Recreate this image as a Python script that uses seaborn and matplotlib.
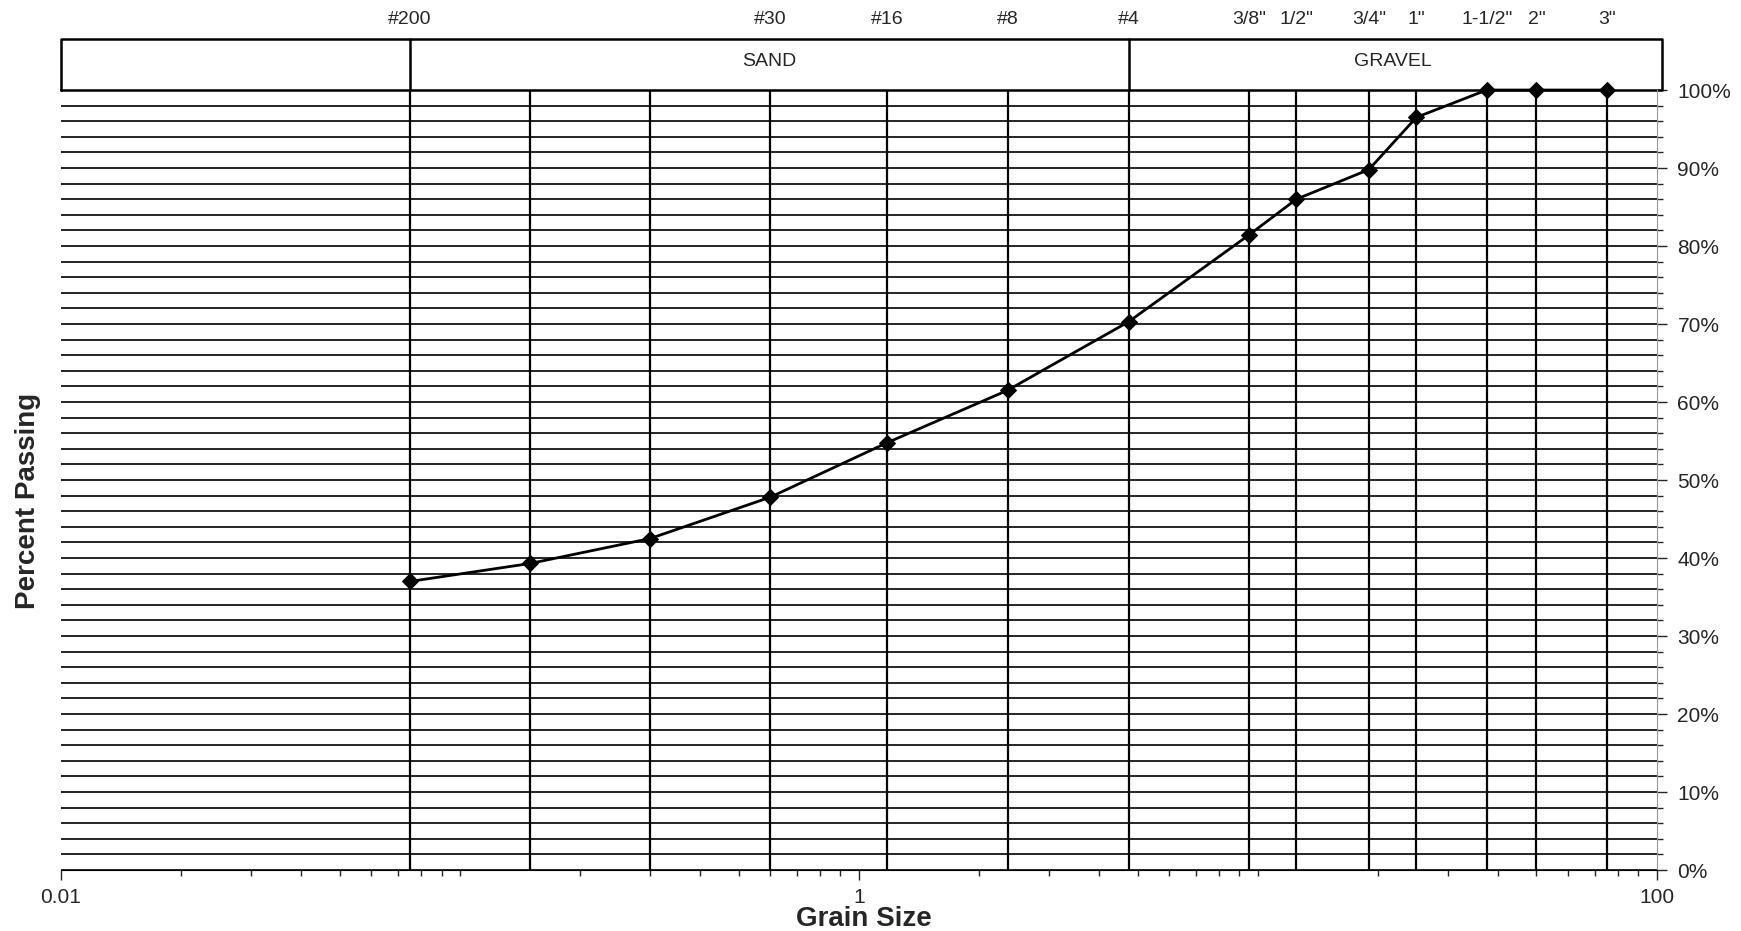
import numpy as np
import pandas as pd
import matplotlib
matplotlib.use("Agg")
import matplotlib.pyplot as plt
import matplotlib.ticker as mticker
import seaborn as sns

# ---- data ----
sieve_labels = ['#200', '#100', '#50', '#30', '#16', '#8', '#4',
                '3/8"', '1/2"', '3/4"', '1"', '1-1/2"', '2"', '3"']
sieve_mm = [0.075, 0.15, 0.3, 0.6, 1.18, 2.36, 4.75,
            9.5, 12.5, 19, 25, 37.5, 50, 75]
percent_passing = [37.0, 39.3, 42.5, 47.8, 54.8, 61.5, 70.3,
                   81.4, 86.0, 89.8, 96.5, 100, 100, 100]
shown_labels = ['#200', '#30', '#16', '#8', '#4', '3/8"', '1/2"',
                '3/4"', '1"', '1-1/2"', '2"', '3"']
zones = ['SAND', 'GRAVEL']
zone_edges = [0.075, 4.75, 100]

df = pd.DataFrame({'size': sieve_mm, 'passing': percent_passing})

sns.set_style("white")
plt.rcParams['font.family'] = ['Liberation Sans', 'DejaVu Sans']

fig = plt.figure(figsize=(17.41, 9.31), dpi=100)
ax = fig.add_axes([0.035, 0.0655, 0.9165, 0.8378])

ax.set_xscale('log')
ax.set_xlim(0.01, 100)
ax.set_ylim(0, 100)

# horizontal grid every 2 %
ax.yaxis.set_major_locator(mticker.MultipleLocator(10))
ax.yaxis.set_minor_locator(mticker.MultipleLocator(2))
ax.yaxis.set_major_formatter(mticker.FuncFormatter(lambda v, p: f"{v:.0f}%"))
ax.grid(which='both', axis='y', color='black', lw=1.2)
ax.grid(which='both', axis='x', visible=False)

# vertical sieve lines
ax.vlines(sieve_mm, 0, 100, color='black', lw=1.6, zorder=2)

sns.lineplot(data=df, x='size', y='passing', ax=ax, color='black', lw=2,
             marker='D', markersize=8, markeredgecolor='black', zorder=5,
             clip_on=False)

# right y axis
ax.yaxis.tick_right()
ax.tick_params(axis='y', which='major', direction='out', length=7, width=1,
               labelsize=15, pad=8, right=True, left=False)
ax.tick_params(axis='y', which='minor', direction='out', length=4, width=1,
               right=True, left=False)

# bottom log ticks
ax.xaxis.set_major_locator(mticker.LogLocator(base=100))
ax.xaxis.set_major_formatter(mticker.FuncFormatter(lambda v, p: f"{v:g}"))
ax.xaxis.set_minor_locator(mticker.LogLocator(base=10, subs=np.arange(1, 10)))
ax.xaxis.set_minor_formatter(mticker.NullFormatter())
ax.tick_params(axis='x', which='major', direction='out', length=7, width=1,
               labelsize=15, pad=6, bottom=True)
ax.tick_params(axis='x', which='minor', direction='out', length=4, width=1,
               bottom=True)

for s in ['left', 'top']:
    ax.spines[s].set_visible(False)
ax.spines['bottom'].set_color('black')
ax.spines['right'].set_color('#999999')

ax.set_xlabel('')
ax.set_ylabel('')
fig.text(0.496, 0.013, 'Grain Size', fontsize=20, fontweight='bold',
         ha='center', va='center')
fig.text(0.016, 0.462, 'Percent Passing', rotation=90, fontsize=20,
         fontweight='bold', ha='center', va='center')

# soil class band above the plot
trans = ax.get_xaxis_transform()
box_top = 1.065
ax.plot([0.01, 103, 103, 0.01, 0.01], [1.0, 1.0, box_top, box_top, 1.0],
        transform=trans, color='black', lw=1.8, clip_on=False)
for edge in zone_edges[:2]:
    ax.plot([edge, edge], [1.0, box_top], transform=trans, color='black',
            lw=1.8, clip_on=False)
for name, lo, hi in zip(zones, zone_edges[:-1], zone_edges[1:]):
    ax.text(np.sqrt(lo * hi), 1.037, name, transform=trans, ha='center',
            va='center', fontsize=14)

# sieve labels
for lab, mm in zip(sieve_labels, sieve_mm):
    if lab in shown_labels:
        ax.text(mm, 1.09, lab, transform=trans, ha='center', va='center',
                fontsize=14)

fig.savefig('out.png', dpi=100)
